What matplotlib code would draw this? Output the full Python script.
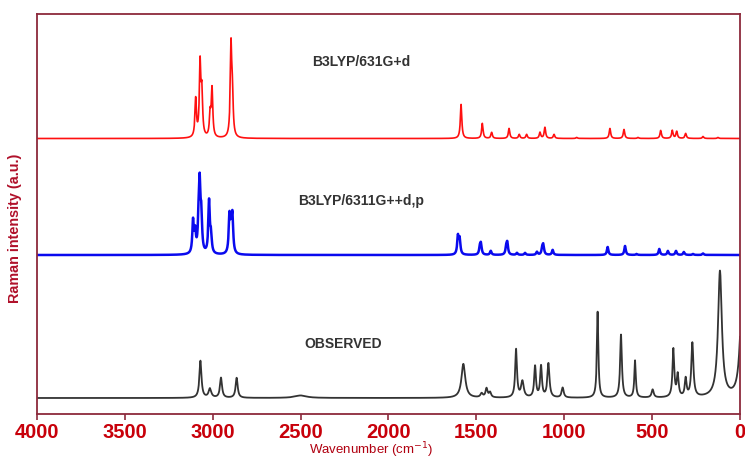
import numpy as np
import matplotlib
matplotlib.use("Agg")
import matplotlib.pyplot as plt

# ---------------- data ----------------
# Peak lists: centre (cm-1), height (a.u.), half width at half maximum (cm-1)
red_pos = [3097, 3072, 3062, 3015, 3004, 2896, 2888,
           1587, 1466, 1413, 1314, 1256, 1214, 1138, 1110, 1058, 929,
           740, 660, 580, 451, 385, 360, 309, 210, 125]
red_hgt = [38, 72, 42, 22, 48, 90, 36,
           34, 15, 6, 10, 4, 4, 6, 11, 4, 1,
           10, 9, 1, 8, 8, 7, 5, 2, 1]
red_wid = 5.0

blue_pos = [3112, 3100, 3080, 3074, 3065, 3021, 3010, 2905, 2896, 2888,
            1605, 1595, 1480, 1474, 1418, 1330, 1324, 1269, 1223, 1155,
            1125, 1119, 1066, 753, 654, 588, 459, 410, 364, 319, 267, 210]
blue_hgt = [32, 20, 30, 60, 34, 52, 18, 36, 20, 36,
            18, 15, 7, 10, 4, 7, 11, 2, 2, 3,
            6, 9, 5, 8, 9, 1, 6, 4, 4, 3, 1, 1.5]
blue_wid = 5.0

obs_pos = [3070, 3016, 2953, 2864, 2500, 1574, 1470, 1442, 1422, 1274,
           1238, 1166, 1132, 1090, 1009, 810, 677, 597, 497, 379,
           354, 309, 271, 114, -10]
obs_hgt = [37, 9, 20, 20, 2.5, 34, 4, 9, 5, 48,
           16, 31, 31, 34, 10, 86, 63, 37, 8, 48,
           22, 18, 54, 126, 86]
obs_wid = [7, 9, 7, 7, 40, 13, 8, 7, 7, 6,
           9, 6, 6, 7, 7, 5, 6, 5, 7, 6,
           6, 6, 7, 13, 15]

series_labels = ["B3LYP/631G+d", "B3LYP/6311G++d,p", "OBSERVED"]
xticks = [4000, 3500, 3000, 2500, 2000, 1500, 1000, 500, 0]

# ---------------- layout / style ----------------
red_offset, blue_offset, obs_offset = 275.5, 159.0, 16.0
frame_col = "#8c2a3c"
tick_col = "#c8000a"
lab_col = "#b0102a"


def spectrum(x, pos, hgt, wid):
    wid = np.broadcast_to(np.asarray(wid, dtype=float), (len(pos),))
    y = np.zeros_like(x)
    for p, h, w in zip(pos, hgt, wid):
        y += h / (1.0 + ((x - p) / w) ** 2)
    return y


x = np.linspace(0, 4000, 16001)

fig = plt.figure(figsize=(7.45, 4.59), dpi=100)
ax = fig.add_axes([37 / 745, 45 / 459, 703 / 745, 400 / 459])

ax.plot(x, red_offset + spectrum(x, red_pos, red_hgt, red_wid),
        color="#ff1010", lw=1.2)
ax.plot(x, blue_offset + spectrum(x, blue_pos, blue_hgt, blue_wid),
        color="#0a0aee", lw=1.8)
ax.plot(x, obs_offset + spectrum(x, obs_pos, obs_hgt, obs_wid),
        color="#333333", lw=1.3)

ax.set_xlim(4000, 0)
ax.set_ylim(0, 400)
ax.set_yticks([])
ax.set_xticks(xticks)
ax.set_xticklabels([str(t) for t in xticks], fontfamily="Liberation Sans",
                   fontweight="bold", fontsize=14.5, color=tick_col)
ax.tick_params(axis="x", direction="out", length=4, width=1.2,
               color=frame_col, pad=2.5)
for s in ax.spines.values():
    s.set_color(frame_col)
    s.set_linewidth(1.3)

txt_kw = dict(fontfamily="Liberation Sans", fontweight="bold", fontsize=10,
              color="#333333", ha="center", va="center")
ax.text(2156, 352, series_labels[0], **txt_kw)
ax.text(2156, 213, series_labels[1], **txt_kw)
ax.text(2259, 70, series_labels[2], **txt_kw)

fig.text(371 / 745, 1 - 450.5 / 459, "Wavenumber (cm$^{-1}$)",
         fontfamily="Liberation Sans", fontsize=9.5, color="#b00010",
         ha="center", va="center")
fig.text(15 / 745, 1 - 228 / 459, "Raman intensity (a.u.)",
         fontfamily="Liberation Sans", fontweight="bold", fontsize=10.4,
         color=lab_col, rotation=90, ha="center", va="center")

fig.savefig("out.png", dpi=100, facecolor="white")
